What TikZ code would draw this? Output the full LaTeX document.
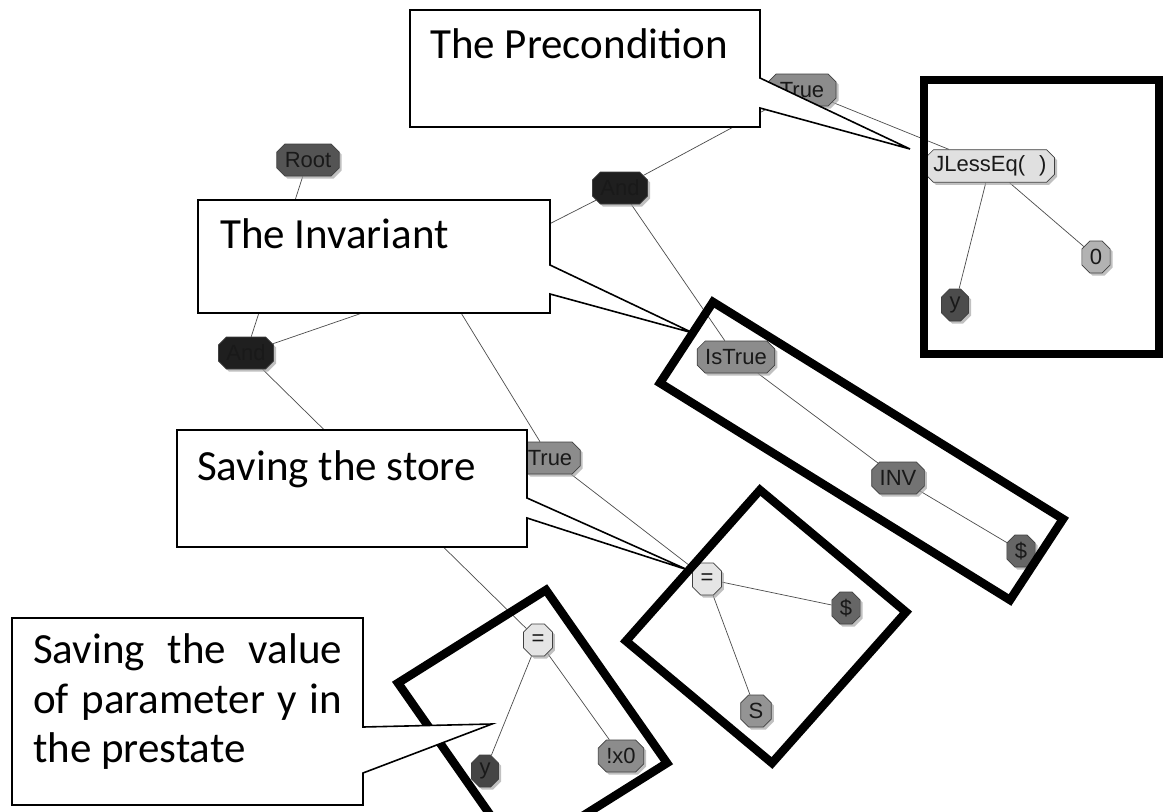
\documentclass[tikz,border=0pt]{standalone}
\usepackage{fontspec}
\setmainfont{Carlito}
\newfontfamily\nodefont{Liberation Sans}
\usetikzlibrary{shapes.misc,shadows}
\pgfdeclarelayer{background}
\pgfdeclarelayer{front}
\pgfsetlayers{background,main,front}

\begin{document}
\begin{tikzpicture}[x=1pt,y=-1pt,
  tn/.style={chamfered rectangle, chamfered rectangle xsep=4pt,
    chamfered rectangle ysep=4pt, draw=black!75, line width=0.7pt,
    font=\nodefont\fontsize{22}{24}\selectfont, text=black!90,
    inner xsep=4pt, inner ysep=2pt, minimum height=32pt, minimum width=26pt,
    drop shadow={shadow xshift=2.5pt, shadow yshift=-2.5pt, fill=black!35, opacity=0.7}},
  link/.style={draw=black!70, line width=0.7pt},
  hl/.style={draw=black, line width=8.5pt, line join=miter},
  bubble/.style={draw=black, line width=1.6pt, fill=white, line join=miter},
  ctext/.style={font=\fontsize{43}{50}\selectfont, inner sep=0pt, anchor=base west}]

\useasboundingbox (0,0) rectangle (1169,811);
\clip (0,0) rectangle (1169,811);

% tree nodes
\node[tn, fill=black!67] (root) at (308,160) {Root};
\node[tn, fill=black!88] (andA) at (620,188) {And};
\node[tn, fill=black!88] (andB) at (246,353) {And};
\node[tn, fill=black!45, minimum width=68pt] (trueA) at (802,90) {True};
\node[tn, fill=black!12] (jle) at (990,166) {JLessEq(\hspace{14pt})};
\node[tn, fill=black!70] (yA) at (955,305) {y};
\node[tn, fill=black!30, minimum width=22pt] (zero) at (1096,257) {0};
\node[tn, fill=black!45] (istrue) at (736,357) {IsTrue};
\node[tn, fill=black!55] (inv) at (898,478) {INV};
\node[tn, fill=black!60] (dolA) at (1021,551) {\$};
\node[tn, fill=black!45] (trueB) at (550,458) {True};
\node[tn, fill=black!10] (eqA) at (707,579) {=};
\node[tn, fill=black!60] (dolB) at (846,608) {\$};
\node[tn, fill=black!42] (ess) at (756,711) {S};
\node[tn, fill=black!10] (eqB) at (538,640) {=};
\node[tn, fill=black!73] (yB) at (485,771) {y};
\node[tn, fill=black!45] (nx) at (621,756) {!x0};

% junctions hidden under the invariant label
\coordinate (h1) at (400,300);
\coordinate (h2) at (447,290);

% connectors, behind the nodes
\begin{pgfonlayer}{background}
\fill[white] (0,0) rectangle (1169,811);
\path[link] (root) -- (andB);
\path[link] (andB) -- (h1);
\path[link] (andA) -- (h1);
\path[link] (h2) -- (trueB);
\path[link] (andA) -- (trueA);
\path[link] (trueA) -- (jle);
\path[link] (jle) -- (yA);
\path[link] (jle) -- (zero);
\path[link] (andA) -- (istrue);
\path[link] (istrue) -- (inv);
\path[link] (inv) -- (dolA);
\path[link] (andB) -- (eqB);
\path[link] (trueB) -- (eqA);
\path[link] (eqA) -- (dolB);
\path[link] (eqA) -- (ess);
\path[link] (eqB) -- (yB);
\path[link] (eqB) -- (nx);
\end{pgfonlayer}

\begin{pgfonlayer}{front}
% highlight frames
\draw[hl] (924,80) rectangle (1159,354);
\draw[hl] (713,302) -- (1063,519) -- (1010,600) -- (660,383) -- cycle;
\draw[hl] (760,490) -- (906,612) -- (772,763) -- (626,641) -- cycle;
\draw[hl] (546,590) -- (667,763) -- (519,856) -- (398,683) -- cycle;

% speech bubbles
\draw[bubble] (410,10) -- (760,10) -- (760,78) -- (910,149) -- (760,108) -- (760,127) -- (410,127) -- cycle;
\node[ctext] (pre) at (430,58) {The Precondition};

\draw[bubble] (198,200) -- (550,200) -- (550,265) -- (693,333) -- (550,294) -- (550,313) -- (198,313) -- cycle;
\node[ctext] (invl) at (220,248) {The Invariant};

\draw[bubble] (177,430) -- (527,430) -- (527,498) -- (688,570) -- (527,518) -- (527,547) -- (177,547) -- cycle;
\node[ctext] (store) at (197,480) {Saving the store};

\draw[bubble] (12,618) -- (363,618) -- (363,727) -- (492,724) -- (363,773) -- (363,805) -- (12,805) -- cycle;
\node[ctext] (val1) at (33,663) {\makebox[309pt][s]{Saving the value}};
\node[ctext] (val2) at (33,713) {\makebox[309pt][s]{of parameter y in}};
\node[ctext] (val3) at (33,762) {the prestate};
\end{pgfonlayer}
\end{tikzpicture}
\end{document}
